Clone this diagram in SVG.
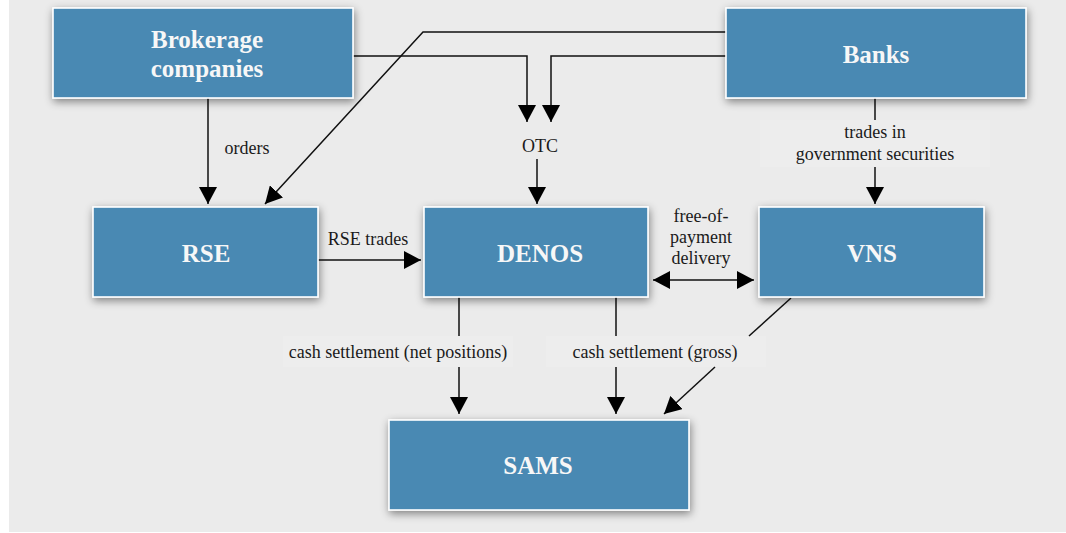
<svg xmlns="http://www.w3.org/2000/svg" width="1066" height="533" viewBox="0 0 1066 533">
<style>
.box{fill:#4889b3;stroke:#ffffff;stroke-width:1.6;filter:url(#sh)}
.nt{font-family:"Liberation Serif","Times New Roman",serif;font-size:25px;font-weight:bold;fill:#f7f7f7;text-anchor:middle}
.lb{font-family:"Liberation Serif","Times New Roman",serif;font-size:18px;fill:#1a1a1a;text-anchor:middle}
.ln{fill:none;stroke:#111111;stroke-width:1.5}
.arr{marker-end:url(#ah)}
.lbg{fill:#ededed}
</style>
<defs>
<filter id="sh" x="-20%" y="-30%" width="140%" height="170%">
<feDropShadow dx="1" dy="3" stdDeviation="4" flood-color="#000000" flood-opacity="0.45"/>
</filter>
<marker id="ah" viewBox="0 0 17 18" refX="17" refY="9" markerWidth="17" markerHeight="18" markerUnits="userSpaceOnUse" orient="auto-start-reverse">
<path d="M0,0 L17,9 L0,18 z" fill="#000000"/>
</marker>
</defs>
<rect x="0" y="0" width="1066" height="533" fill="#ffffff"/>
<rect x="9" y="0" width="1057" height="532" fill="#ebebeb"/>
<g id="label-backgrounds">
<rect class="lbg" x="760" y="120" width="230" height="47"/>
<rect class="lbg" x="283" y="336" width="230" height="31"/>
<rect class="lbg" x="546" y="336" width="220" height="31"/>
</g>
<g id="connectors">
<path class="ln arr" d="M208,98 V204"/>
<path class="ln arr" d="M726,32 H423 L265,204"/>
<path class="ln arr" d="M353,56 H527 V122"/>
<path class="ln arr" d="M726,56 H551 V122"/>
<path class="ln arr" d="M537,159 V204"/>
<path class="ln" d="M875,98 V120"/>
<path class="ln arr" d="M875,167 V204"/>
<path class="ln arr" d="M318,260 H421"/>
<path class="ln arr" d="M653,280 H754" marker-start="url(#ah)"/>
<path class="ln" d="M459,297 V336"/>
<path class="ln arr" d="M459,367 V414"/>
<path class="ln" d="M616,297 V336"/>
<path class="ln arr" d="M616,367 V414"/>
<path class="ln" d="M791,298 L749,336"/>
<path class="ln arr" d="M715,367 L664,414"/>
<text class="lb" x="247" y="154">orders</text>
<text class="lb" x="540" y="152">OTC</text>
<text class="lb" x="875" y="138">trades in</text>
<text class="lb" x="875" y="160">government securities</text>
<text class="lb" x="368" y="245">RSE trades</text>
<text class="lb" x="701" y="222">free-of-</text>
<text class="lb" x="701" y="243">payment</text>
<text class="lb" x="701" y="264">delivery</text>
<text class="lb" x="398" y="358">cash settlement (net positions)</text>
<text class="lb" x="655" y="358">cash settlement (gross)</text>
</g>
<g id="node-brokerage">
<rect class="box" x="53" y="8" width="300" height="90"/>
<text class="nt" x="207" y="48">Brokerage</text>
<text class="nt" x="207" y="77">companies</text>
</g>
<g id="node-banks">
<rect class="box" x="726" y="8" width="300" height="90"/>
<text class="nt" x="876" y="63">Banks</text>
</g>
<g id="node-rse">
<rect class="box" x="93" y="207" width="225" height="90"/>
<text class="nt" x="206" y="262">RSE</text>
</g>
<g id="node-denos">
<rect class="box" x="424" y="207" width="224" height="90"/>
<text class="nt" x="540" y="262">DENOS</text>
</g>
<g id="node-vns">
<rect class="box" x="759" y="207" width="225" height="90"/>
<text class="nt" x="872" y="262">VNS</text>
</g>
<g id="node-sams">
<rect class="box" x="389" y="420" width="300" height="90"/>
<text class="nt" x="538" y="474">SAMS</text>
</g>
</svg>
